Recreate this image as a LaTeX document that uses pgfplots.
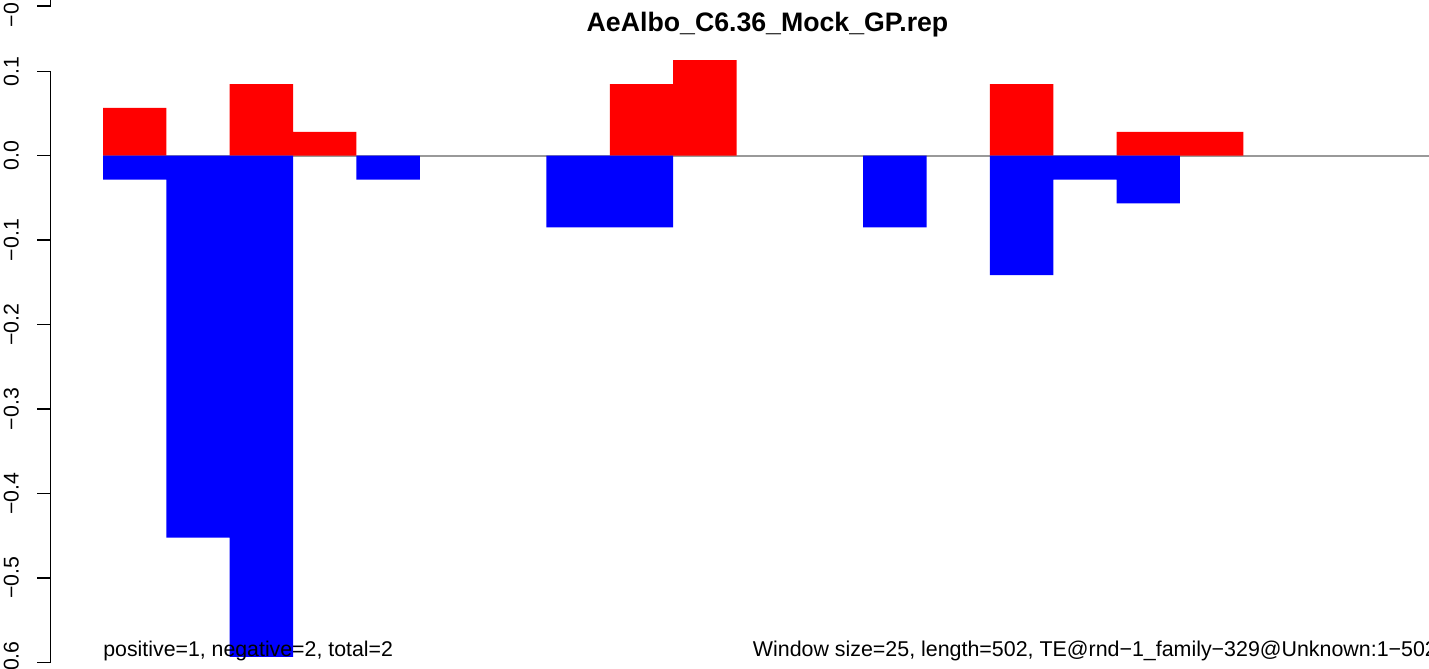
\documentclass[border=0pt]{standalone}
\usepackage{pgfplots}
\pgfplotsset{compat=1.18}
\usepackage{fontspec}
\setmainfont{Liberation Sans}
\definecolor{zeroline}{RGB}{153,153,153}
\begin{document}
\begin{tikzpicture}
\path[use as bounding box] (0,0) rectangle (714.5pt,334.5pt);
\clip (0,0) rectangle (714.5pt,334.5pt);
% bars
\begin{axis}[at={(0pt,0pt)}, anchor=south west, scale only axis,
  width=714.5pt, height=334.5pt,
  xmin=-1.6259, xmax=20.931, ymin=-0.60796, ymax=0.18442,
  hide axis, clip=true]
\addplot[draw=zeroline, line width=0.9pt] coordinates {(0,0) (20.931,0)};
\addplot[ybar, bar width=1, bar shift=0pt, fill=red, draw=none] coordinates {
(0.5,0.0565) (2.5,0.0848) (3.5,0.0283) (8.5,0.0848) (9.5,0.1131)
(14.5,0.0848) (16.5,0.0283) (17.5,0.0283)};
\addplot[ybar, bar width=1, bar shift=0pt, fill=blue, draw=none] coordinates {
(0.5,-0.0283) (1.5,-0.4524) (2.5,-0.5937) (4.5,-0.0283) (7.5,-0.0848)
(8.5,-0.0848) (12.5,-0.0848) (14.5,-0.1414) (15.5,-0.0283) (16.5,-0.0565)};
\end{axis}
% y axis
\begin{axis}[at={(25.35pt,3.35pt)}, anchor=south west, scale only axis,
  width=10pt, height=295.5pt, xmin=0, xmax=1, ymin=-0.6, ymax=0.1,
  enlargelimits=false, axis x line=none, axis y line=left,
  axis line style={-, line width=0.75pt, black},
  ytick={-0.6,-0.5,-0.4,-0.3,-0.2,-0.1,0,0.1},
  yticklabels={−0.6,−0.5,−0.4,−0.3,−0.2,−0.1,0.0,0.1},
  tick align=outside, major tick length=6.7pt,
  tick style={line width=0.75pt, black},
  yticklabel shift=9pt,
  yticklabel style={rotate=90, anchor=south, inner sep=0pt, font=\fontsize{10.65}{12}\selectfont}]
\end{axis}
% fragment of the axis above
\begin{axis}[at={(25.35pt,331.5pt)}, anchor=south west, scale only axis,
  width=10pt, height=30pt, xmin=0, xmax=1, ymin=0, ymax=1,
  enlargelimits=false, axis x line=none, axis y line=left,
  axis line style={-, line width=0.75pt, black},
  ytick={0}, yticklabels={−0.6},
  tick align=outside, major tick length=6.7pt,
  tick style={line width=0.75pt, black},
  yticklabel shift=9pt,
  yticklabel style={rotate=90, anchor=south, inner sep=0pt, font=\fontsize{10.65}{12}\selectfont}]
\end{axis}
\node[anchor=base, inner sep=0pt, font=\fontsize{13.35}{15}\selectfont\bfseries] at (383.75pt,318.65pt) {AeAlbo\_C6.36\_Mock\_GP.rep};
\node[anchor=base west, inner sep=0pt, font=\fontsize{10.65}{12}\selectfont] at (51.5pt,6pt) {positive=1, negative=2, total=2};
\node[anchor=base west, inner sep=0pt, font=\fontsize{10.7}{12}\selectfont] at (376.25pt,6pt) {Window size=25, length=502, TE@rnd−1\_family−329@Unknown:1−502};
\end{tikzpicture}
\end{document}
